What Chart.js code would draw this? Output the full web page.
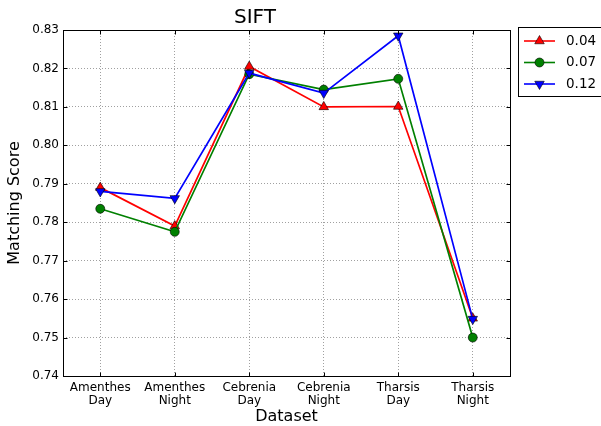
<!DOCTYPE html>
<html>
<head>
<meta charset="utf-8">
<script src="https://cdn.jsdelivr.net/npm/chart.js@4.4.0/dist/chart.umd.min.js"></script>
<style>
html,body{margin:0;padding:0;background:#fff;}
#wrap{width:601px;height:426px;}
</style>
</head>
<body>
<div id="wrap"><canvas id="c" width="601" height="426"></canvas></div>
<script>
const categories = [['Amenthes','Day'],['Amenthes','Night'],['Cebrenia','Day'],['Cebrenia','Night'],['Tharsis','Day'],['Tharsis','Night']];
const seriesNames = ['0.04','0.07','0.12'];
const s004 = [0.789, 0.779, 0.8205, 0.810, 0.8101, 0.755];
const s007 = [0.7835, 0.7775, 0.8185, 0.8145, 0.8173, 0.750];
const s012 = [0.788, 0.7862, 0.8188, 0.8136, 0.8285, 0.7548];
const yTicks = [0.74,0.75,0.76,0.77,0.78,0.79,0.80,0.81,0.82,0.83];

const FONT = "'DejaVu Sans', sans-serif";

const frameLegend = {
  id: 'frameLegend',
  afterDatasetsDraw(chart) {
    const ctx = chart.ctx, a = chart.chartArea;
    const L = Math.round(a.left)+0.5, R = Math.round(a.right)+0.5, T = Math.round(a.top)+0.5, B = Math.round(a.bottom)+0.5;
    ctx.save();
    ctx.strokeStyle = '#000'; ctx.lineWidth = 1; ctx.setLineDash([]);
    ctx.strokeRect(L, T, R-L, B-T);
    const ys = chart.scales.y, xs = chart.scales.x;
    ctx.beginPath();
    yTicks.forEach(v => {
      const p = Math.round(ys.getPixelForValue(v))+0.5;
      ctx.moveTo(L, p); ctx.lineTo(L+4, p);
      ctx.moveTo(R, p); ctx.lineTo(R-4, p);
    });
    categories.forEach((c,i) => {
      const p = Math.round(xs.getPixelForValue(i))+0.5;
      ctx.moveTo(p, B); ctx.lineTo(p, B-4);
      ctx.moveTo(p, T); ctx.lineTo(p, T+4);
    });
    ctx.stroke();
    ctx.restore();
  },
  afterDraw(chart) {
    const ctx = chart.ctx;
    ctx.save();
    const bx = 518.5, by = 27.5, bw = 90, bh = 69;
    ctx.fillStyle = '#fff';
    ctx.fillRect(bx, by, bw, bh);
    ctx.strokeStyle = '#000'; ctx.lineWidth = 1;
    ctx.strokeRect(bx, by, bw, bh);
    const rows = [41, 62.5, 84];
    chart.data.datasets.forEach((ds, i) => {
      const y = rows[i];
      ctx.strokeStyle = ds.borderColor; ctx.lineWidth = 1.6;
      ctx.beginPath(); ctx.moveTo(524, y); ctx.lineTo(555, y); ctx.stroke();
      ctx.fillStyle = ds.pointBackgroundColor; ctx.strokeStyle = ds.pointBorderColor; ctx.lineWidth = ds.pointBorderWidth;
      ctx.beginPath();
      Chart.helpers.drawPoint(ctx, {pointStyle: ds.pointStyle, rotation: ds.pointRotation || 0, radius: ds.pointRadius, borderWidth: ds.pointBorderWidth}, 539.5, y);
      ctx.fillStyle = '#000';
      ctx.font = "13.5px " + FONT;
      ctx.textBaseline = 'middle'; ctx.textAlign = 'left';
      ctx.fillText(ds.label, 566, y);
    });
    ctx.restore();
  }
};

const mk = (label, data, color, style, rot, r) => ({
  label, data,
  borderColor: color, backgroundColor: color,
  borderWidth: 1.7,
  pointStyle: style, pointRotation: rot, pointRadius: r, pointHoverRadius: r,
  pointBackgroundColor: color, pointBorderColor: '#000', pointBorderWidth: 0.6,
  tension: 0, fill: false
});

new Chart(document.getElementById('c'), {
  type: 'line',
  data: {
    labels: categories,
    datasets: [
      Object.assign(mk(seriesNames[0], s004, '#ff0000', 'triangle', 0, 5.5), {order: 3}),
      Object.assign(mk(seriesNames[1], s007, '#008000', 'circle', 0, 4.5), {order: 2}),
      Object.assign(mk(seriesNames[2], s012, '#0000ff', 'triangle', 180, 5.5), {order: 1})
    ]
  },
  options: {
    responsive: false,
    animation: false,
    devicePixelRatio: 1,
    layout: { padding: { left: 0, right: 91, top: 0, bottom: 0 } },
    plugins: {
      legend: { display: false },
      tooltip: { enabled: false },
      title: {
        display: true, text: 'SIFT', color: '#000',
        font: { family: FONT, size: 20, weight: 'normal', lineHeight: 1.2 },
        padding: { top: 6, bottom: 0 }
      }
    },
    scales: {
      x: {
        type: 'category', offset: true,
        grid: { offset: false, color: '#888', lineWidth: 0.8, drawTicks: false },
        border: { display: false, dash: [1, 2] },
        ticks: { color: '#000', font: { family: FONT, size: 12, lineHeight: 1.1 }, padding: 5, maxRotation: 0, autoSkip: false },
        title: { display: true, text: 'Dataset', color: '#000', font: { family: FONT, size: 16 }, padding: { top: 0, bottom: 0 } },
        afterFit(s) { s.height = 50; }
      },
      y: {
        min: 0.74, max: 0.83,
        afterBuildTicks(s) { s.ticks = yTicks.map(v => ({ value: v })); },
        grid: { color: '#888', lineWidth: 0.8, drawTicks: false },
        border: { display: false, dash: [1, 2] },
        ticks: { color: '#000', font: { family: FONT, size: 12 }, padding: 4, callback: v => v.toFixed(2) },
        title: { display: true, text: 'Matching Score', color: '#000', font: { family: FONT, size: 16 }, padding: { top: 5, bottom: 0 } },
        afterFit(s) { s.width = 63; }
      }
    }
  },
  plugins: [frameLegend]
});
</script>
</body>
</html>
